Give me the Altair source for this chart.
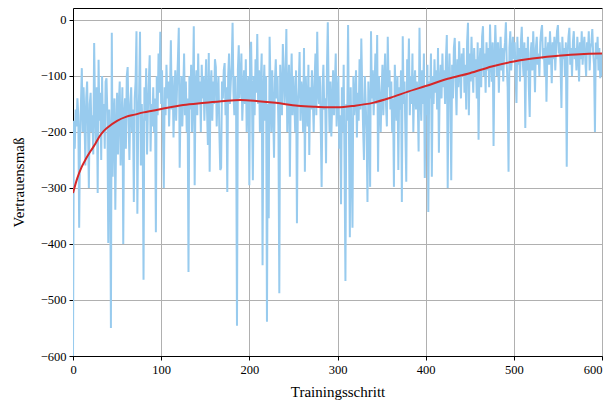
import altair as alt
import pandas as pd

# Blue series: confidence measure per training step
reward = [
    -600, -180, -230, -160, -190, -140, -170, -371, -210, -150,
    -86, -200, -120, -175, -260, -140, -110, -190, -300, -150,
    -130, -200, -170, -240, -41, -160, -220, -120, -309, -71,
    -180, -130, -250, -100, -200, -150, -230, -110, -104, -170,
    -398, -160, -210, -550, -23, -280, -180, -140, -339, -200,
    -130, -240, -150, -110, -260, -190, -120, -400, -170, -140,
    -230, -100, -84, -180, -250, -150, -120, -200, -160, -325,
    -140, -110, -20, -346, -180, -130, -21, -260, -150, -200,
    -464, -120, -180, -86, -240, -160, -110, -63, -235, -150,
    -190, -120, -200, -140, -379, -100, -170, -60, -130, -21,
    -150, -90, -200, -300, -120, -170, -80, -140, -110, -190,
    -130, -36, -160, -100, -210, -140, -90, -180, -120, -70,
    -14, -264, -150, -100, -190, -130, -60, -170, -110, -200,
    -140, -450, -100, -160, -80, -200, -130, -11, -295, -120,
    -90, -170, -60, -150, -110, -200, -80, -140, -100, -180,
    -130, -70, -160, -223, -59, -271, -120, -90, -180, -110,
    -150, -70, -84, -190, -130, -100, -200, -268, -264, -110,
    -140, -90, -77, -170, -120, -307, -100, -60, -150, -110,
    -80, -5, -130, -170, -100, -160, -546, -90, -45, -140,
    -110, -60, -180, -130, -90, -150, -70, -200, -120, -100,
    -295, -60, -39, -140, -286, -100, -170, -70, -130, -25,
    -150, -90, -200, -110, -60, -438, -130, -80, -180, -100,
    -539, -150, -354, -30, -120, -200, -90, -160, -246, -110,
    -70, -140, -100, -190, -488, -80, -130, -170, -43, -90,
    -150, -110, -16, -200, -130, -80, -280, -120, -60, -170,
    -100, -140, -200, -90, -363, -150, -120, -57, -180, -110,
    -130, -200, -50, -271, -100, -150, -190, -80, -241, -120,
    -160, -90, -140, -200, -110, -60, -170, -21, -130, -150,
    -100, -190, -298, -120, -80, -160, -140, -256, -90, -4,
    -130, -200, -110, -208, -150, -90, -170, -120, -60, -190,
    -140, -100, -230, -170, -329, -120, -200, -80, -260, -466,
    -150, -180, -9, -200, -388, -120, -250, -371, -100, -170,
    -140, -90, -210, -130, -180, -70, -160, -33, -120, -190,
    -250, -100, -150, -200, -325, -110, -160, -298, -20, -140,
    -90, -170, -120, -60, -150, -27, -271, -100, -140, -200,
    -130, -80, -170, -110, -60, -150, -190, -30, -120, -90,
    -160, -110, -200, -140, -298, -80, -130, -180, -100, -268,
    -120, -160, -90, -325, -29, -150, -110, -200, -289, -70,
    -130, -33, -170, -100, -150, -60, -200, -120, -90, -160,
    -110, -140, -235, -14, -130, -180, -90, -150, -60, -282,
    -120, -170, -80, -343, -110, -140, -60, -280, -100, -150,
    -70, -130, -90, -160, -50, -237, -110, -80, -140, -60,
    -120, -90, -150, -70, -27, -300, -110, -60, -130, -286,
    -80, -140, -50, -32, -110, -170, -70, -120, -38, -90,
    -140, -60, -100, -50, -130, -80, -160, -40, -5, -170,
    -60, -110, -30, -90, -130, -50, -100, -70, -140, -40,
    -214, -80, -50, -120, -30, -11, -100, -60, -130, -40,
    -90, -50, -120, -8, -70, -110, -40, -225, -80, -9,
    -60, -100, -40, -130, -70, -30, -90, -50, -110, -60,
    -40, -4, -80, -120, -271, -50, -20, -90, -60, -30,
    -70, -40, -100, -148, -30, -80, -50, -110, -40, -12,
    -70, -100, -40, -193, -50, -90, -30, -120, -173, -60,
    -40, -90, -20, -70, -129, -50, -30, -80, -60, -100,
    -40, -20, -9, -70, -50, -100, -30, -146, -60, -40,
    -80, -20, -60, -113, -40, -70, -30, -90, -50, -20,
    -9, -60, -40, -80, -157, -30, -70, -50, -100, -40,
    -262, -60, -30, -14, -80, -50, -100, -40, -20, -70,
    -50, -90, -30, -60, -110, -40, -70, -20, -80, -50,
    -30, -70, -100, -40, -60, -20, -90, -50, -40, -16,
    -60, -80, -200, -40, -70, -30, -90, -50, -104, -60,
    -100,
]
steps = list(range(len(reward)))

# Red smoothed trend
trend_steps = [0, 5, 10, 15, 20, 25, 30, 35, 40, 50, 60, 70, 80, 90, 100,
               125, 150, 175, 190, 210, 230, 255, 275, 290, 300, 320, 340,
               360, 380, 400, 425, 450, 475, 500, 515, 550, 575, 600]
trend_vals = [-309, -282, -262, -247, -234, -222, -208, -198, -191, -180,
              -173, -169, -165, -162, -159, -152, -148, -144, -143, -145,
              -148, -153, -155, -156, -156, -153, -148, -139, -128, -118,
              -105, -95, -83, -74, -70, -64, -61, -60]

x_ticks = [0, 100, 200, 300, 400, 500, 600]
y_ticks = [-600, -500, -400, -300, -200, -100, 0]

df = pd.DataFrame({"step": steps, "value": reward})
tf = pd.DataFrame({"step": trend_steps, "value": trend_vals})

xenc = alt.X("step:Q",
             scale=alt.Scale(domain=[0, 600], nice=False, zero=False),
             axis=alt.Axis(values=x_ticks, title="Trainingsschritt", format="d",
                           labelFlush=False,
                           labelAlign={"condition": {"test": "datum.value == 600", "value": "right"},
                                       "value": "center"}))
yenc = alt.Y("value:Q",
             scale=alt.Scale(domain=[-600, 21.4], nice=False, zero=False),
             axis=alt.Axis(values=y_ticks, title="Vertrauensmaß", format="d"))

blue = alt.Chart(df).mark_line(color="#98cbee", strokeWidth=2, clip=True).encode(x=xenc, y=yenc)
red = alt.Chart(tf).mark_line(color="#d62728", strokeWidth=2, interpolate="monotone",
                              clip=True).encode(x="step:Q", y="value:Q")

FONT = "Liberation Serif"
chart = (
    (blue + red)
    .properties(width=529, height=348,
                padding={"left": 65, "top": 0, "right": 2, "bottom": 45},
                autosize=alt.AutoSizeParams(type="none"))
    .configure_view(stroke="black", strokeWidth=1)
    .configure_axis(
        labelFont=FONT, labelFontSize=12.5, labelColor="black",
        titleFont=FONT, titleFontSize=15, titleFontWeight="normal", titleColor="black",
        tickColor="black", tickSize=4, domainColor="black", domainWidth=1,
        gridColor="#b0b0b0", gridWidth=1, labelPadding=3,
    )
    .configure_axisX(titlePadding=9)
    .configure_axisY(titlePadding=14)
)

chart.save("out.html", embed_options={"renderer": "svg", "actions": False})
